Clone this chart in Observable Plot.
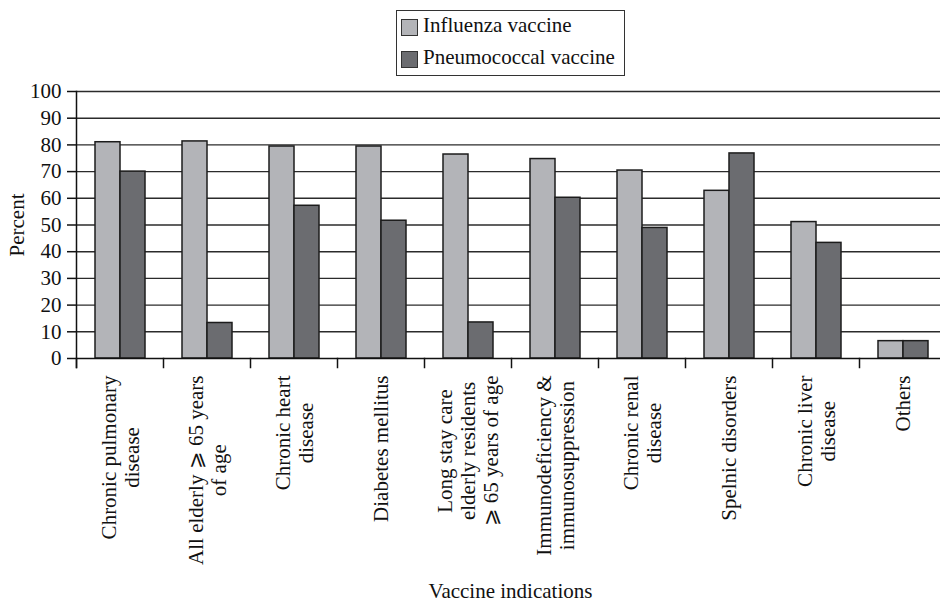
<!DOCTYPE html>
<html>
<head>
<meta charset="utf-8">
<script src="https://cdn.jsdelivr.net/npm/d3@7"></script>
<script src="https://cdn.jsdelivr.net/npm/@observablehq/plot@0.6"></script>
<style>
  html, body { margin: 0; padding: 0; background: #fff; overflow: hidden; width: 940px; height: 606px; }
  #wrap { position: relative; width: 940px; height: 606px; overflow: hidden; font-family: 'Liberation Serif', 'Times New Roman', serif; color: #111; }
  #wrap svg { max-width: none !important; position: absolute; left: 0; top: 0; }
  #legend { position: absolute; left: 396px; top: 10px; width: 227px; height: 64px; border: 1.3px solid #333; background: #fff; font-size: 21px; z-index: 2; }
  .row { position: absolute; left: 26px; line-height: 24px; white-space: nowrap; }
  .sw { position: absolute; left: 4px; width: 15px; height: 15px; border: 1px solid #333; }
  #xtitle { position: absolute; left: 310px; width: 401px; top: 579px; line-height: 24px; text-align: center; font-size: 21px; }
</style>
</head>
<body>
<div id="wrap">
  <div id="legend"></div>
  <div id="xtitle"></div>
</div>
<script>
const categories = [
  "Chronic pulmonary\ndisease",
  "All elderly \u2A7E 65 years\nof age",
  "Chronic heart\ndisease",
  "Diabetes mellitus",
  "Long stay care\nelderly residents\n\u2A7E 65 years of age",
  "Immunodeficiency &\nimmunosuppression",
  "Chronic renal\ndisease",
  "Spelnic disorders",
  "Chronic liver\ndisease",
  "Others"
];
const seriesNames = ["Influenza vaccine", "Pneumococcal vaccine"];
const influenza =    [81.0, 81.3, 79.4, 79.4, 76.4, 74.7, 70.4, 62.8, 51.1, 6.5];
const pneumococcal = [70.0, 13.3, 57.2, 51.6, 13.5, 60.2, 48.9, 76.8, 43.3, 6.5];
const yTicks = [0, 10, 20, 30, 40, 50, 60, 70, 80, 90, 100];
const colors = ["#b3b4b8", "#6b6c70"];
const yLabel = "Percent";
const xLabel = "Vaccine indications";

const rows = categories.flatMap((c, i) => [
  {category: c, series: seriesNames[0], value: influenza[i]},
  {category: c, series: seriesNames[1], value: pneumococcal[i]}
]);

const W = 949, H = 606, MT = 91, MB = 248, ML = 72, MR = 0;
const plotH = H - MT - MB;
const FONT = "'Liberation Serif', 'Times New Roman', serif";

const ctx = document.createElement("canvas").getContext("2d");
ctx.font = "21px 'Liberation Serif'";
const widths = categories.map(c => d3.max(c.split("\n"), s => ctx.measureText(s).width));

const labelMarks = categories.map((c, i) => Plot.text([c], {
  fx: d => d,
  text: d => d,
  frameAnchor: "bottom",
  rotate: -90,
  textAnchor: "middle",
  lineAnchor: "middle",
  lineHeight: 1.1,
  fontSize: 21,
  dy: 17 + widths[i] / 2,
  fill: "#111"
}));

const chart = Plot.plot({
  width: W,
  height: H,
  marginTop: MT,
  marginBottom: MB,
  marginLeft: ML,
  marginRight: MR,
  style: {fontFamily: FONT, fontSize: "21px", color: "#111", background: "transparent"},
  fx: {domain: categories, padding: 0, axis: null, label: null},
  x: {domain: seriesNames, paddingInner: 0, paddingOuter: 0.73, axis: null, label: null},
  y: {domain: [0, 100], axis: null},
  color: {domain: seriesNames, range: colors},
  marks: [
    Plot.gridY(yTicks.filter(d => d > 0), {stroke: "#2b2b2b", strokeOpacity: 1, strokeWidth: 1.4}),
    Plot.barY(rows, {fx: "category", x: "series", y: "value", fill: "series", stroke: "#1c1c1c", strokeWidth: 1.5}),
    Plot.ruleY([0], {stroke: "#111", strokeWidth: 1.5}),
    Plot.frame({anchor: "left", insetTop: plotH, insetBottom: -9, stroke: "#111", strokeWidth: 1.5}),
    Plot.frame({anchor: "left", insetBottom: -9, stroke: "#111", strokeWidth: 1.5, facetAnchor: "left"}),
    Plot.axisY({ticks: yTicks, tickSize: 9, tickPadding: 6, fontSize: 21, stroke: "#111", strokeWidth: 1.5,
      label: yLabel, labelAnchor: "center", labelOffset: 67, labelArrow: "none"}),
    ...labelMarks
  ]
});

const wrap = document.getElementById("wrap");
wrap.insertBefore(chart, wrap.firstChild);

const legend = document.getElementById("legend");
seriesNames.forEach((s, i) => {
  const sw = document.createElement("div");
  sw.className = "sw";
  sw.style.top = (8 + 32 * i) + "px";
  sw.style.background = colors[i];
  legend.appendChild(sw);
  const r = document.createElement("div");
  r.className = "row";
  r.style.top = (2 + 32 * i) + "px";
  r.textContent = s;
  legend.appendChild(r);
});
document.getElementById("xtitle").textContent = xLabel;
</script>
</body>
</html>
